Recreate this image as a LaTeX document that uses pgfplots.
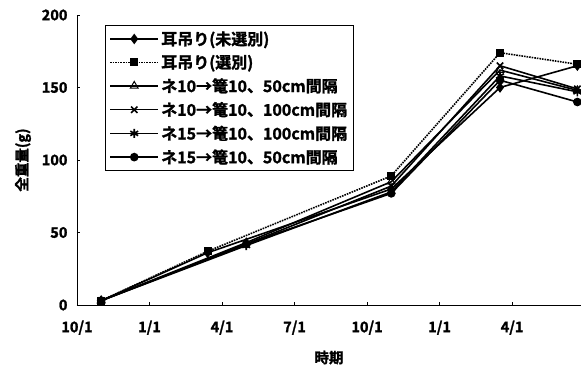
\documentclass[border=0pt]{standalone}
\usepackage{pgfplots}
\pgfplotsset{compat=1.18}
\usepackage{fontspec}
\setmainfont{Noto Sans CJK JP}[BoldFont={Noto Sans CJK JP Bold}, BoldFeatures={FakeBold=1.5}]
\usetikzlibrary{plotmarks}
\begin{document}
\begin{tikzpicture}
\useasboundingbox (-77pt,-66pt) rectangle (504pt,305pt);
\begin{axis}[
  scale only axis,
  width=504pt, height=290pt,
  xmin=0, xmax=20.85, ymin=0, ymax=200,
  axis x line*=bottom, axis y line*=left,
  axis line style={line width=0.9pt},
  xtick={0,3,6,9,12,15,18},
  xticklabels={10/1,1/1,4/1,7/1,10/1,1/1,4/1},
  ytick={0,50,100,150,200},
  tick align=inside, major tick length=3pt,
  tick style={line width=0.9pt, black},
  /pgf/number format/assume math mode=true,
  ticklabel style={font=\bfseries\fontsize{14.5}{16}\selectfont},
  xticklabel style={yshift=-12pt},
  yticklabel style={xshift=-6pt},
  xlabel={\bfseries\fontsize{14.5}{16}\selectfont 時期},
  ylabel={\bfseries\fontsize{14.5}{16}\selectfont 全重量(g)},
  xlabel style={yshift=-9pt},
  ylabel style={yshift=4pt},
  clip=false,
  legend cell align=left,
  legend style={at={(0.055,0.966)}, anchor=north west, draw=black, line width=1.1pt,
    font=\bfseries\fontsize{16}{18}\selectfont, row sep=4.5pt, inner sep=4pt,
    legend image code/.code={\draw[mark repeat=2,mark phase=2] plot coordinates {(0cm,0cm) (0.85cm,0cm) (1.7cm,0cm)};}},
  every axis plot/.append style={line width=1.6pt, black},
]
\addplot[mark=diamond*, mark size=4pt, mark options={solid,fill=black}] coordinates {(1,3) (5.4,36) (13,80) (17.5,150) (20.7,165)};
\addlegendentry{耳吊り(未選別)}
\addplot[densely dotted, mark=square*, mark size=3.2pt, mark options={solid,fill=black}] coordinates {(1,3) (5.4,37) (13,89) (17.5,174) (20.7,166)};
\addlegendentry{耳吊り(選別)}
\addplot[mark=triangle, mark size=4.5pt, mark options={solid,fill=white,line width=1pt}] coordinates {(1,3) (7,43) (13,85) (17.5,162) (20.7,148)};
\addlegendentry{ネ10→篭10、50cm間隔}
\addplot[mark=x, mark size=4.5pt, mark options={solid}] coordinates {(1,3) (7,42) (13,82) (17.5,165) (20.7,149)};
\addlegendentry{ネ10→篭10、100cm間隔}
\addplot[mark=asterisk, mark size=4.5pt, mark options={solid}] coordinates {(1,3) (7,41) (13,78) (17.5,158) (20.7,147)};
\addlegendentry{ネ15→篭10、100cm間隔}
\addplot[mark=*, mark size=3.5pt, mark options={solid,fill=black}] coordinates {(1,3) (7,42) (13,77) (17.5,155) (20.7,140)};
\addlegendentry{ネ15→篭10、50cm間隔}
\end{axis}
\end{tikzpicture}
\end{document}
